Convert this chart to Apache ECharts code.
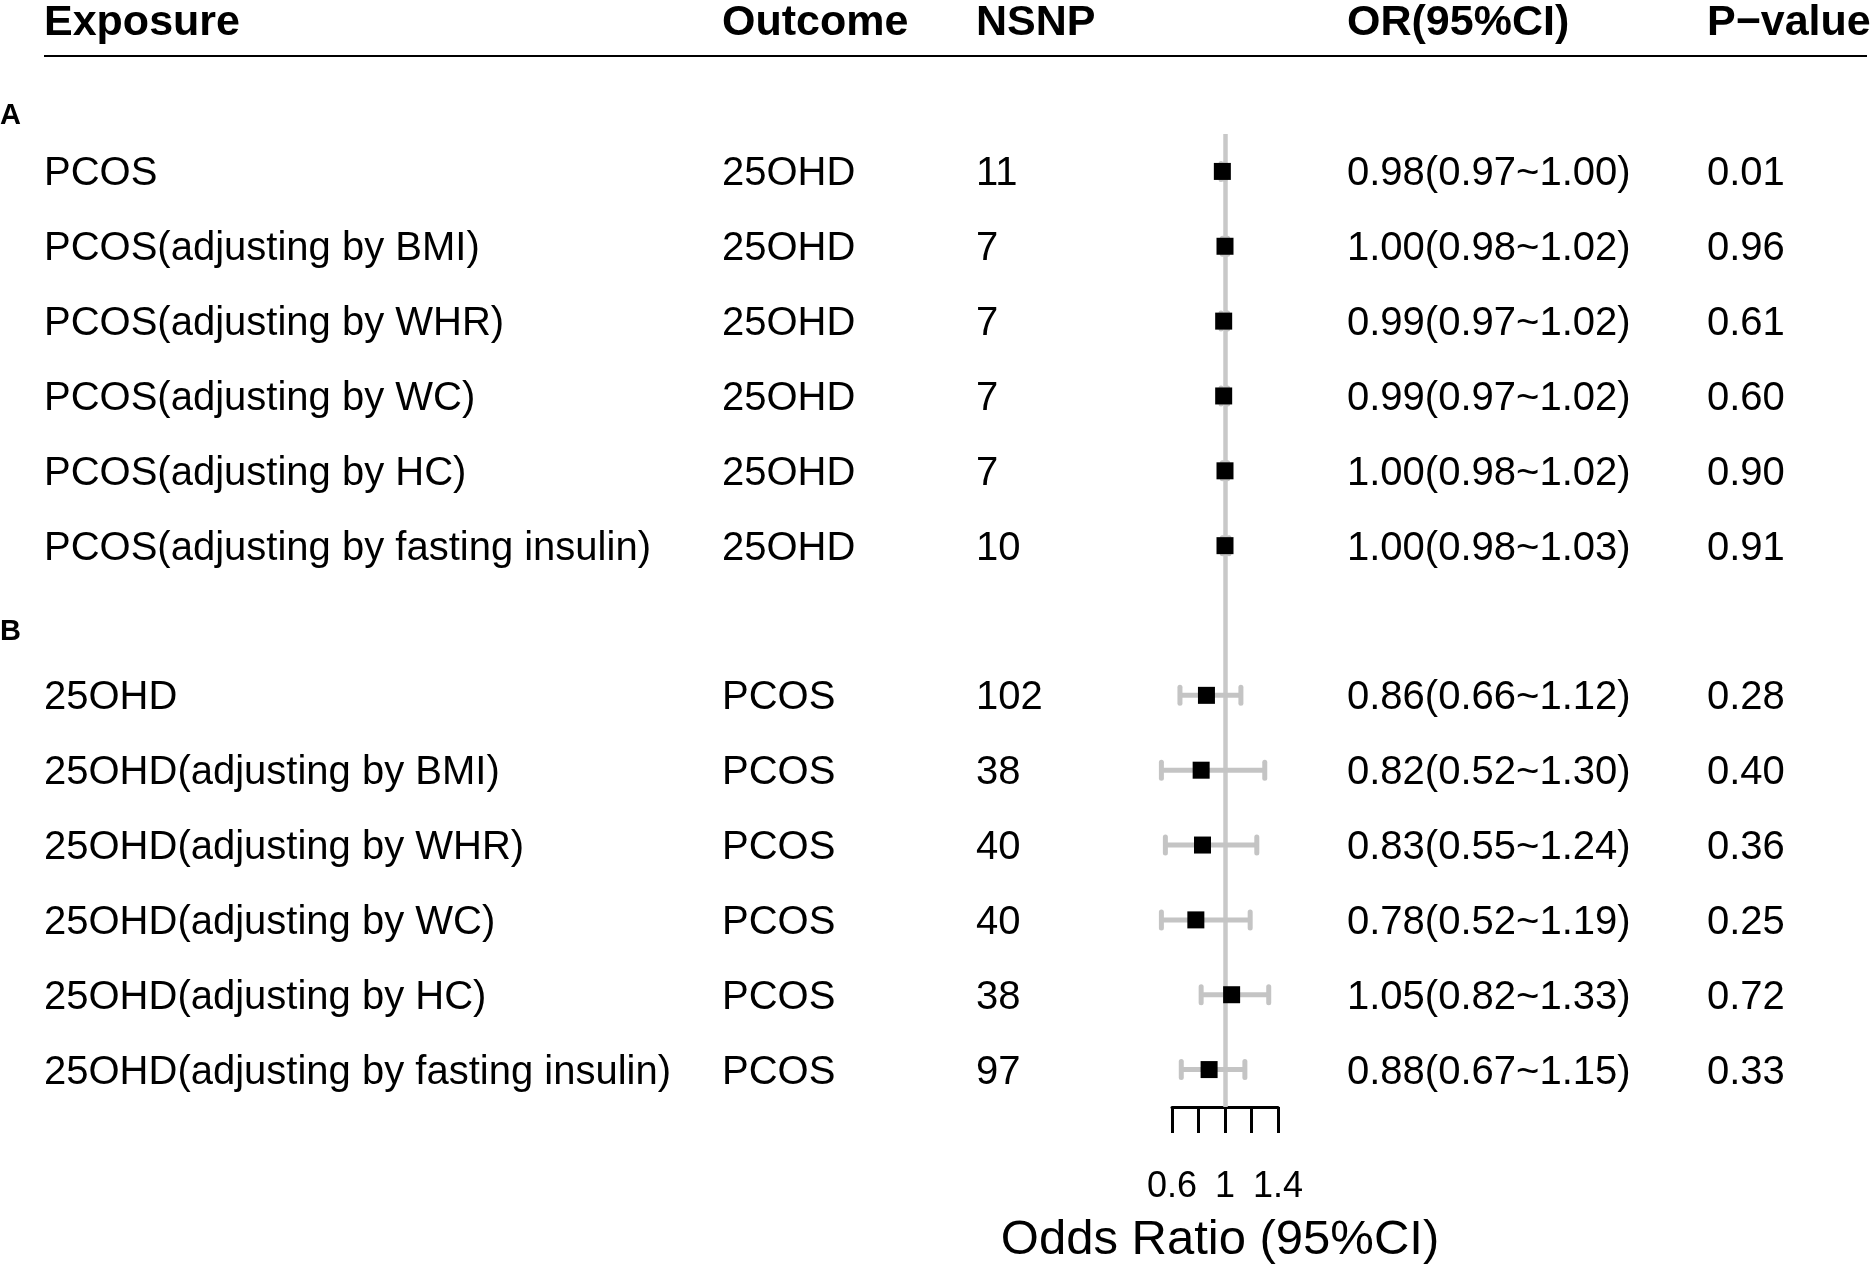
<!DOCTYPE html>
<html>
<head>
<meta charset="utf-8">
<script src="https://cdn.jsdelivr.net/npm/echarts@6/dist/echarts.min.js"></script>
<style>
  html, body { margin: 0; padding: 0; background: #fff; }
  #main { width: 1871px; height: 1266px; }
</style>
</head>
<body>
<div id="main"></div>
<script>
// rows 0-5: section A, row 6: gap, rows 7-12: section B
var exposure = ['PCOS', 'PCOS(adjusting by BMI)', 'PCOS(adjusting by WHR)', 'PCOS(adjusting by WC)',
  'PCOS(adjusting by HC)', 'PCOS(adjusting by fasting insulin)', '',
  '25OHD', '25OHD(adjusting by BMI)', '25OHD(adjusting by WHR)', '25OHD(adjusting by WC)',
  '25OHD(adjusting by HC)', '25OHD(adjusting by fasting insulin)'];
var outcome = ['25OHD', '25OHD', '25OHD', '25OHD', '25OHD', '25OHD', '',
  'PCOS', 'PCOS', 'PCOS', 'PCOS', 'PCOS', 'PCOS'];
var nsnp = ['11', '7', '7', '7', '7', '10', '', '102', '38', '40', '40', '38', '97'];
var orVal = [0.98, 1.00, 0.99, 0.99, 1.00, 1.00, null, 0.86, 0.82, 0.83, 0.78, 1.05, 0.88];
var lower = [0.97, 0.98, 0.97, 0.97, 0.98, 0.98, null, 0.66, 0.52, 0.55, 0.52, 0.82, 0.67];
var upper = [1.00, 1.02, 1.02, 1.02, 1.02, 1.03, null, 1.12, 1.30, 1.24, 1.19, 1.33, 1.15];
var pval = ['0.01', '0.96', '0.61', '0.60', '0.90', '0.91', '', '0.28', '0.40', '0.36', '0.25', '0.72', '0.33'];
var headers = ['Exposure', 'Outcome', 'NSNP', 'OR(95%CI)', 'P\u2212value'];
var sections = ['A', 'B'];
var shownTicks = [0.6, 1, 1.4];

var FONT = '"Liberation Sans", Arial, Helvetica, sans-serif';
var BAR = '#c4c4c4';

var orText = orVal.map(function (v, i) {
  if (v == null) return '';
  return v.toFixed(2) + '(' + lower[i].toFixed(2) + '~' + upper[i].toFixed(2) + ')';
});

var points = [], bars = [];
orVal.forEach(function (v, i) {
  if (v == null) return;
  points.push([v, i]);
  bars.push([i, lower[i], upper[i]]);
});

var gridLeft = 1172, gridRight = 1278;
var colX = [44, 722, 976, 1347, 1707];

// text columns live on a second grid, nudged down a little to match the glyph baseline
function colAxis(data, pos, margin) {
  return {
    gridIndex: 1, type: 'category', inverse: true, position: pos, data: data,
    axisLine: { show: false }, axisTick: { show: false }, splitLine: { show: false },
    axisLabel: { interval: 0, margin: margin, align: 'left', verticalAlign: 'middle',
      color: '#000', fontSize: 40, fontFamily: FONT }
  };
}

var myChart = echarts.init(document.getElementById('main'));

var option = {
  backgroundColor: '#fff',
  animation: false,
  grid: [
    { left: gridLeft, width: gridRight - gridLeft, top: 134, height: 973, outerBoundsMode: 'none', containLabel: false },
    { left: gridLeft, width: gridRight - gridLeft, top: 137, height: 973, outerBoundsMode: 'none', containLabel: false }
  ],
  xAxis: [{
    type: 'value', min: 0.6, max: 1.4, interval: 0.2,
    axisLine: { show: true, lineStyle: { color: '#000', width: 3 } },
    axisTick: { show: true, length: 26, lineStyle: { color: '#000', width: 3 } },
    splitLine: { show: false },
    axisLabel: {
      margin: 62, color: '#000', fontSize: 36, fontFamily: FONT,
      formatter: function (v) {
        var r = +v.toFixed(2);
        return shownTicks.indexOf(r) >= 0 ? String(r) : '';
      }
    },
    name: 'Odds Ratio (95%CI)', nameLocation: 'middle', nameGap: 109,
    nameTextStyle: { color: '#000', fontSize: 49, fontFamily: FONT, padding: [0, 10, 0, 0] }
  }, {
    gridIndex: 1, type: 'value', min: 0.6, max: 1.4, show: false
  }],
  yAxis: [
    {
      type: 'category', inverse: true, data: exposure, show: false
    },
    colAxis(exposure, 'left', gridLeft - colX[0]),
    colAxis(outcome, 'left', gridLeft - colX[1]),
    colAxis(nsnp, 'left', gridLeft - colX[2]),
    colAxis(orText, 'right', colX[3] - gridRight),
    colAxis(pval, 'right', colX[4] - gridRight)
  ],
  graphic: [
    { type: 'line', shape: { x1: 44, y1: 56, x2: 1867, y2: 56 }, style: { stroke: '#000', lineWidth: 2 } }
  ].concat(headers.map(function (h, i) {
    return { type: 'text', x: colX[i], y: 23,
      style: { text: h, fill: '#000', font: 'bold 43px ' + FONT, align: 'left', verticalAlign: 'middle' } };
  })).concat(sections.map(function (s, i) {
    return { type: 'text', x: 0, y: [116, 632][i],
      style: { text: s, fill: '#000', font: 'bold 29px ' + FONT, align: 'left', verticalAlign: 'middle' } };
  })),
  series: [
    {
      type: 'line', data: [], z: 1, silent: true,
      markLine: {
        silent: true, symbol: 'none', label: { show: false }, z: 1,
        lineStyle: { color: '#c8c8c8', width: 4.5, type: 'solid' },
        data: [{ xAxis: 1 }]
      }
    },
    {
      type: 'custom', z: 2, silent: true,
      data: bars,
      encode: { x: [1, 2], y: 0 },
      renderItem: function (params, api) {
        var row = api.value(0);
        var lo = api.coord([api.value(1), row]);
        var hi = api.coord([api.value(2), row]);
        var st = { stroke: BAR, lineWidth: 5, lineCap: 'round' };
        return {
          type: 'group',
          children: [
            { type: 'line', shape: { x1: lo[0], y1: lo[1], x2: hi[0], y2: hi[1] }, style: { stroke: BAR, lineWidth: 5 } },
            { type: 'line', shape: { x1: lo[0], y1: lo[1] - 8, x2: lo[0], y2: lo[1] + 8 }, style: st },
            { type: 'line', shape: { x1: hi[0], y1: hi[1] - 8, x2: hi[0], y2: hi[1] + 8 }, style: st }
          ]
        };
      }
    },
    {
      type: 'scatter', z: 3, silent: true,
      data: points,
      symbol: 'rect', symbolSize: 17,
      itemStyle: { color: '#000', opacity: 1 }
    }
  ]
};

myChart.setOption(option);
</script>
</body>
</html>
